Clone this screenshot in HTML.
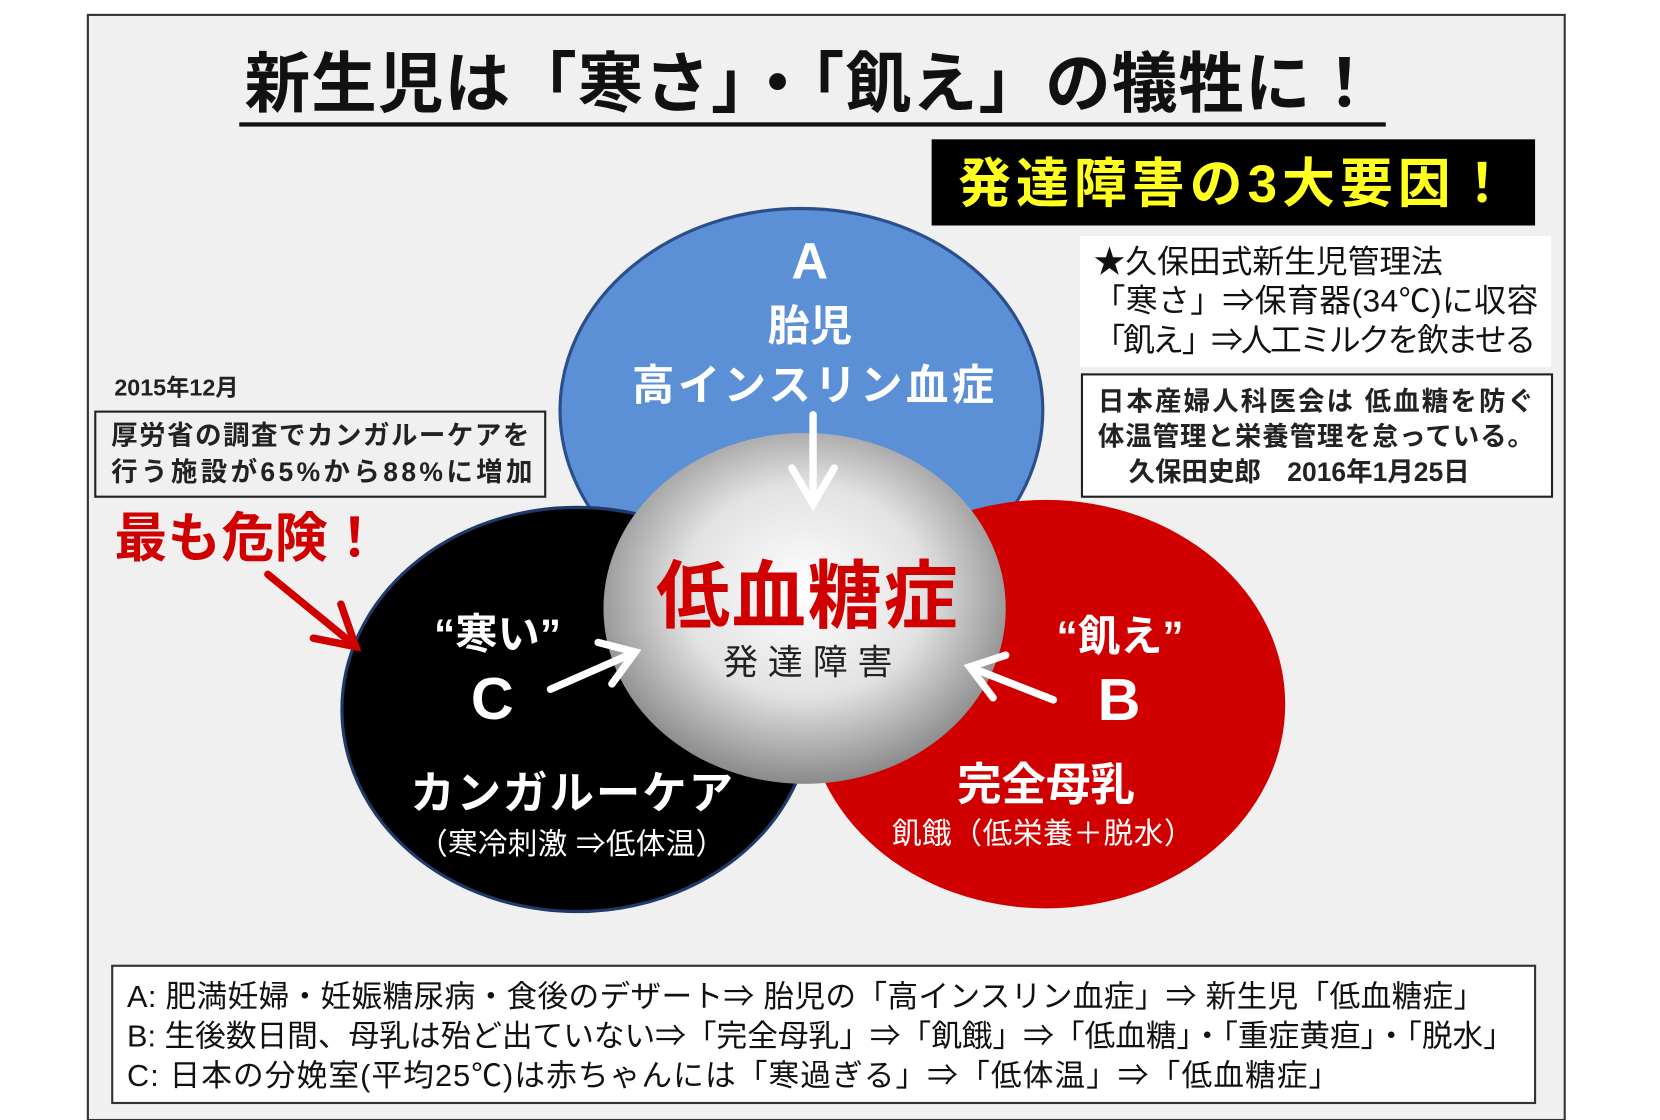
<!DOCTYPE html>
<html><head><meta charset="utf-8"><style>
html,body{margin:0;padding:0;background:#fff;}
svg{display:block;}
text{font-family:"Liberation Sans","Noto Sans CJK JP",sans-serif;}
</style></head><body>
<svg width="1660" height="1120" viewBox="0 0 1568 1053" preserveAspectRatio="none" xmlns="http://www.w3.org/2000/svg">
<defs>
<radialGradient id="g" cx="50%" cy="45%" r="55%">
<stop offset="0" stop-color="#ffffff"/><stop offset="0.55" stop-color="#e2e2e2"/><stop offset="1" stop-color="#8a8a8a"/>
</radialGradient>
</defs>
<rect x="83" y="14" width="1395" height="1039" fill="#f0f0f0" stroke="#333" stroke-width="2"/>
<text x="766" y="100" font-size="62" font-weight="bold" text-anchor="middle" fill="#111" textLength="1070">新生児は「寒さ」・「飢え」の犠牲に！</text>
<rect x="226" y="115" width="1083" height="4" fill="#111"/>
<rect x="880" y="131" width="570" height="81" fill="#000"/>
<text x="1165" y="190" font-size="50" font-weight="bold" text-anchor="middle" fill="#ffff20" textLength="520">発達障害の3大要因！</text>
<rect x="1020" y="222" width="445" height="123" fill="#fff"/>
<text x="1033" y="256" font-size="30" fill="#111">★久保田式新生児管理法</text>
<text x="1033" y="293" font-size="30" fill="#111" textLength="420">「寒さ」⇒保育器(34℃)に収容</text>
<text x="1033" y="330" font-size="30" fill="#111" textLength="418">「飢え」⇒人工ミルクを飲ませる</text>
<rect x="1022" y="352" width="444" height="115" fill="#fff" stroke="#222" stroke-width="2"/>
<text x="1037" y="386" font-size="25" font-weight="bold" fill="#222" textLength="412">日本産婦人科医会は 低血糖を防ぐ</text>
<text x="1037" y="419" font-size="25" font-weight="bold" fill="#222" textLength="412">体温管理と栄養管理を怠っている。</text>
<text x="1066" y="452" font-size="25" font-weight="bold" fill="#222">久保田史郎　2016年1月25日</text>
<ellipse cx="757" cy="386" rx="228" ry="190" fill="#5b8fd6" stroke="#2a4f8a" stroke-width="3"/>
<ellipse cx="545" cy="667" rx="222" ry="190" fill="#000" stroke="#1f3a6a" stroke-width="3"/>
<ellipse cx="988" cy="662" rx="226" ry="192" fill="#d10000"/>
<ellipse cx="760" cy="572" rx="190" ry="165" fill="url(#g)"/>
<text x="765" y="262" font-size="48" font-weight="bold" fill="#fff" text-anchor="middle">A</text>
<text x="765" y="320" font-size="40" font-weight="bold" fill="#fff" text-anchor="middle">胎児</text>
<text x="768" y="376" font-size="40" font-weight="bold" fill="#fff" text-anchor="middle" textLength="342">高インスリン血症</text>
<g stroke="#fff" stroke-width="7" fill="none" stroke-linecap="round">
<line x1="768" y1="390" x2="768" y2="472"/>
<polyline points="748,440 768,474 788,440"/>
<line x1="520" y1="648" x2="598" y2="614"/>
<polyline points="565,604 600,613 578,643"/>
<line x1="995" y1="658" x2="918" y2="628"/>
<polyline points="950,616 916,627 938,656"/>
</g>
<g stroke="#d00000" stroke-width="7" fill="none" stroke-linecap="round">
<line x1="253" y1="540" x2="334" y2="606"/>
<polyline points="322,568 336,608 296,600"/>
</g>
<text x="762" y="585" font-size="70" font-weight="bold" fill="#d00000" text-anchor="middle" textLength="285">低血糖症</text>
<text x="763" y="634" font-size="33" fill="#222" text-anchor="middle" textLength="160">発達障害</text>
<text x="470" y="610" font-size="40" font-weight="bold" fill="#fff" text-anchor="middle">“寒い”</text>
<text x="465" y="676" font-size="56" font-weight="bold" fill="#fff" text-anchor="middle">C</text>
<text x="540" y="760" font-size="42" font-weight="bold" fill="#fff" text-anchor="middle" textLength="305">カンガルーケア</text>
<text x="540" y="803" font-size="28" fill="#fff" text-anchor="middle" textLength="290">（寒冷刺激 ⇒低体温）</text>
<text x="1058" y="612" font-size="40" font-weight="bold" fill="#fff" text-anchor="middle">“飢え”</text>
<text x="1057" y="677" font-size="56" font-weight="bold" fill="#fff" text-anchor="middle">B</text>
<text x="988" y="752" font-size="42" font-weight="bold" fill="#fff" text-anchor="middle">完全母乳</text>
<text x="985" y="793" font-size="28" fill="#fff" text-anchor="middle" textLength="285">飢餓（低栄養＋脱水）</text>
<text x="108" y="372" font-size="22" font-weight="bold" fill="#222">2015年12月</text>
<rect x="90" y="387" width="425" height="80" fill="#f0f0f0" stroke="#222" stroke-width="2"/>
<text x="105" y="418" font-size="25" font-weight="bold" fill="#222" textLength="395">厚労省の調査でカンガルーケアを</text>
<text x="105" y="452" font-size="25" font-weight="bold" fill="#222" textLength="398">行う施設が65%から88%に増加</text>
<text x="108" y="523" font-size="50" font-weight="bold" fill="#d00000" textLength="252">最も危険！</text>
<rect x="106" y="908" width="1344" height="129" fill="#fff" stroke="#333" stroke-width="2"/>
<text x="120" y="947" font-size="29" fill="#111" textLength="1282">A: 肥満妊婦・妊娠糖尿病・食後のデザート⇒ 胎児の「高インスリン血症」⇒ 新生児「低血糖症」</text>
<text x="120" y="984" font-size="29" fill="#111" textLength="1310">B: 生後数日間、母乳は殆ど出ていない⇒「完全母乳」⇒「飢餓」⇒「低血糖」・「重症黄疸」・「脱水」</text>
<text x="120" y="1021" font-size="29" fill="#111" textLength="1145">C: 日本の分娩室(平均25℃)は赤ちゃんには「寒過ぎる」⇒「低体温」⇒「低血糖症」</text>
</svg>
</body></html>
